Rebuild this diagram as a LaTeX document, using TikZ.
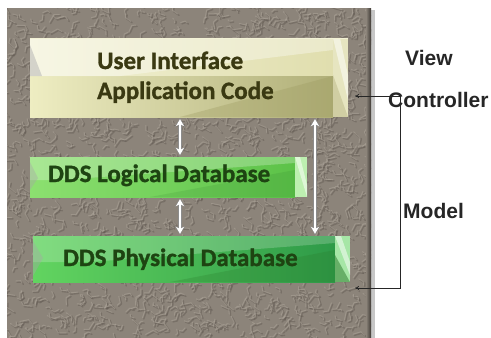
\documentclass[tikz,border=0pt]{standalone}
\usepackage{fontspec}
\newfontfamily\boxfont{Carlito}[BoldFeatures={FakeBold=1.2}]
\newfontfamily\labelfont{Liberation Sans}
\usetikzlibrary{arrows.meta}

\definecolor{panel}{HTML}{8C847A}
\definecolor{paneldark}{HTML}{665E56}
\definecolor{panellight}{HTML}{ABA398}
\definecolor{uitext}{HTML}{3A3912}
\definecolor{dbtext}{HTML}{1E4412}
\definecolor{labeltext}{HTML}{262626}
\definecolor{uilight}{HTML}{F3F2D6}
\definecolor{uimid}{HTML}{E0DEAE}
\definecolor{uilow}{HTML}{EEEDC2}
\definecolor{uidark}{HTML}{B0AF78}
\definecolor{uibevel}{HTML}{E6E5C0}
\definecolor{uishade}{HTML}{9E9C62}
\definecolor{lgleft}{HTML}{8CE070}
\definecolor{lgright}{HTML}{5CC248}
\definecolor{lgbevel}{HTML}{BDEFB0}
\definecolor{pgleft}{HTML}{62D460}
\definecolor{pgright}{HTML}{2E9A48}
\definecolor{pgbevel}{HTML}{A6E6A6}
\definecolor{gshade}{HTML}{2A7A2A}

\tikzset{
  boxtext/.style={font=\boxfont\bfseries\fontsize{25}{25}\selectfont, inner sep=0pt, anchor=base west},
  uitxt/.style={boxtext, text=uitext},
  dbtxt/.style={boxtext, text=dbtext},
  sidelabel/.style={font=\labelfont\bfseries\fontsize{21}{21}\selectfont, text=labeltext, inner sep=0pt, anchor=base west},
  layerbox/.style={inner sep=0pt, draw=none},
  dblarrow/.style={{Stealth[length=7pt,width=8pt]}-{Stealth[length=7pt,width=8pt]},
    draw=white, line width=2.4pt, shorten <=2pt, shorten >=2pt,
    preaction={draw=black!45, line width=4pt, shorten <=1pt, shorten >=1pt,
      arrows={Stealth[length=8.5pt,width=10pt]-Stealth[length=8.5pt,width=10pt]}}},
  bracket/.style={{To[length=4pt,width=4pt]}-{To[length=4pt,width=4pt]}, draw=black!85, line width=0.7pt},
}

\begin{document}
\begin{tikzpicture}[x=1pt,y=-1pt]
\useasboundingbox (0,0) rectangle (491,338);
\fill[white] (0,0) rectangle (491,338);

% stucco panel
\fill[black!22] (10,10) rectangle (375,338);
\fill[panel] (7,8) rectangle (371,338);
\begin{scope}
  \clip (7,8) rectangle (371,338);
  \pgfmathsetseed{17}
  \foreach \i in {1,...,1900} {
    \pgfmathsetmacro\px{7+364*rnd}
    \pgfmathsetmacro\py{8+330*rnd}
    \pgfmathsetmacro\ang{360*rnd}
    \pgfmathsetmacro\len{3+6*rnd}
    \draw[paneldark, line width=1.4pt, line cap=round, line join=round, opacity=0.5]
      (\px,\py) -- ++(\ang:\len) -- ++(\ang+60:\len*0.6);
    \draw[panellight, line width=1pt, line cap=round, line join=round, opacity=0.55]
      (\px-1.3,\py-1.3) -- ++(\ang:\len) -- ++(\ang+60:\len*0.6);
  }
  \shade[left color=panel, right color=paneldark!60!black] (366,8) rectangle (371,338);
\end{scope}

% layer boxes (anchors for text and connectors)
\node[layerbox, fill=uimid, minimum width=318pt, minimum height=79pt] (ui) at (189,77.5) {};
\node[layerbox, fill=lgleft, minimum width=277pt, minimum height=40pt] (ldb) at (168.5,177) {};
\node[layerbox, fill=pgleft, minimum width=317pt, minimum height=46pt] (pdb) at (191.5,259) {};

% top box faces
\shade[left color=uilight, right color=uimid] (30,38) rectangle (333,76);
\shade[left color=uilow, right color=uidark] (30,76) rectangle (333,117);
\fill[white, opacity=0.35] (30,38) -- (333,38) -- (333,50) -- (120,76) -- (30,76) -- cycle;
\fill[uishade, opacity=0.35] (180,117) -- (333,76) -- (333,117) -- cycle;
\fill[black!30, opacity=0.5] (30,45) -- (42,76) -- (30,76) -- cycle;
\fill[uibevel] (333,38) rectangle (348,117);
\fill[white, opacity=0.5] (333,38) -- (340,38) -- (348,75) -- (348,100) -- cycle;
\fill[uishade, opacity=0.3] (333,75) -- (348,117) -- (333,117) -- cycle;
\draw[uilight, line width=0.8pt] (30,38) -- (348,38);

% logical database box faces
\shade[left color=lgleft, right color=lgright] (30,157) rectangle (295,197);
\fill[white, opacity=0.25] (30,157) -- (295,157) -- (295,163) -- (60,180) -- (30,180) -- cycle;
\fill[gshade, opacity=0.15] (150,197) -- (295,170) -- (295,197) -- cycle;
\fill[lgbevel] (295,157) rectangle (307,197);
\fill[white, opacity=0.5] (295,157) -- (300,157) -- (307,185) -- (307,197) -- cycle;
\fill[black!35, opacity=0.4] (30,162) -- (38,178) -- (30,190) -- cycle;

% physical database box faces
\shade[left color=pgleft, right color=pgright] (33,236) rectangle (335,282);
\fill[white, opacity=0.2] (33,236) -- (335,236) -- (335,243) -- (90,262) -- (33,262) -- cycle;
\fill[gshade, opacity=0.25] (170,282) -- (335,250) -- (335,282) -- cycle;
\fill[pgbevel] (335,236) rectangle (350,282);
\fill[gshade, opacity=0.5] (335,255) -- (350,282) -- (335,282) -- cycle;
\fill[white, opacity=0.5] (335,236) -- (341,236) -- (350,262) -- (350,275) -- cycle;
\fill[black!35, opacity=0.4] (33,241) -- (43,258) -- (33,276) -- cycle;

% box labels
\node[uitxt] (uiA) at (97,69) {User Interface};
\node[uitxt] (uiB) at (97,99) {Application Code};
\node[dbtxt] (ldbT) at (48,182) {DDS Logical Database};
\node[dbtxt] (pdbT) at (63,266) {DDS Physical Database};

% white double arrows between the layers
\coordinate (lx) at (180,0);
\coordinate (rx) at (315,0);
\draw[dblarrow] (ui.south -| lx) -- (ldb.north -| lx);
\draw[dblarrow] (ldb.south -| lx) -- (pdb.north -| lx);
\draw[dblarrow] (ui.south -| rx) -- (pdb.north -| rx);

% MVC labels and bracket
\node[sidelabel] (view) at (405,65) {View};
\coordinate (ctip) at (355,96);
\coordinate (mtip) at (355,288);
\coordinate (bx) at (400,0);
\draw[bracket] (ctip) -- (ctip -| bx) -- (mtip -| bx) -- (mtip);
\node[sidelabel] (ctrl) at (388,107) {Controller};
\node[sidelabel] (model) at (403,218) {Model};
\end{tikzpicture}
\end{document}
